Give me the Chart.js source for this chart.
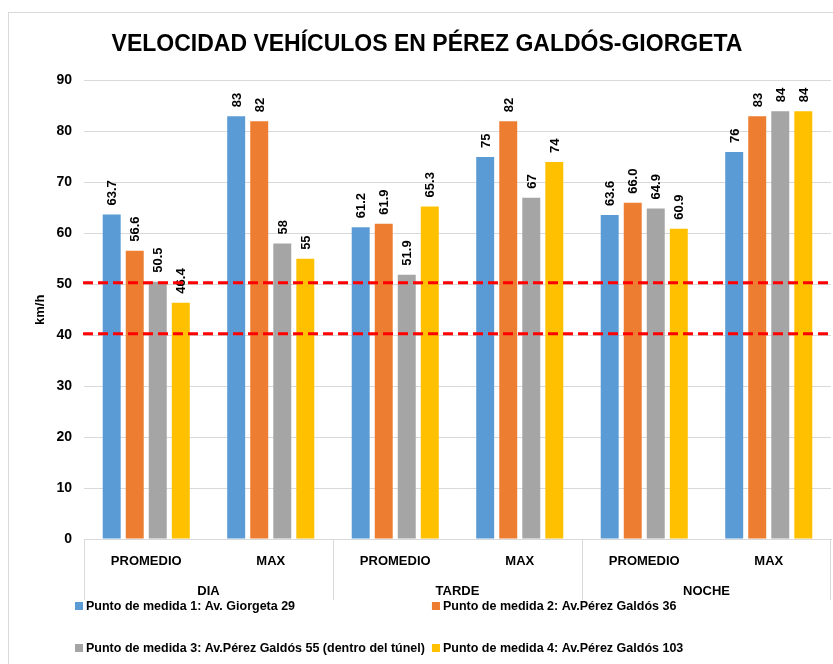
<!DOCTYPE html>
<html><head><meta charset="utf-8">
<script src="https://cdn.jsdelivr.net/npm/chart.js@4/dist/chart.umd.min.js"></script>
<style>html,body{margin:0;padding:0;background:#fff}#wrap{width:833px;height:664px;position:relative}</style>
</head><body><div id="wrap"><canvas id="c"></canvas></div>
<script>
const chartTitle = 'VELOCIDAD VEHÍCULOS EN PÉREZ GALDÓS-GIORGETA';
const yTitle = 'km/h';
const periods = ['DIA', 'TARDE', 'NOCHE'];
const measures = ['PROMEDIO', 'MAX', 'PROMEDIO', 'MAX', 'PROMEDIO', 'MAX'];
const seriesNames = [
  'Punto de medida 1: Av. Giorgeta 29',
  'Punto de medida 2: Av.Pérez Galdós 36',
  'Punto de medida 3: Av.Pérez Galdós 55 (dentro del túnel)',
  'Punto de medida 4: Av.Pérez Galdós 103'
];
const punto1 = [63.7, 83, 61.2, 75, 63.6, 76];
const punto2 = [56.6, 82, 61.9, 82, 66.0, 83];
const punto3 = [50.5, 58, 51.9, 67, 64.9, 84];
const punto4 = [46.4, 55, 65.3, 74, 60.9, 84];
const limits = [50.3, 40.3];
const yMin = 0, yMax = 90, yStep = 10;
const colors = ['#5B9BD5', '#ED7D31', '#A5A5A5', '#FFC000'];

const FONT = '"Liberation Sans", Arial, sans-serif';
const series = [punto1, punto2, punto3, punto4];

const framePlugin = {
  id: 'frame',
  beforeDraw(chart) {
    const ctx = chart.ctx;
    ctx.save();
    ctx.fillStyle = '#fff';
    ctx.fillRect(0, 0, chart.width, chart.height);
    ctx.strokeStyle = '#d9d9d9';
    ctx.lineWidth = 1;
    ctx.strokeRect(8.5, 12.5, chart.width + 50, chart.height + 50);
    ctx.restore();
  }
};

const separatorPlugin = {
  id: 'separators',
  afterDraw(chart) {
    const x2 = chart.scales.x2;
    const ctx = chart.ctx;
    const n = periods.length;
    const xs = [x2.left];
    for (let i = 0; i < n - 1; i++) {
      xs.push((x2.getPixelForTick(i) + x2.getPixelForTick(i + 1)) / 2);
    }
    xs.push(x2.right - 1);
    ctx.save();
    ctx.strokeStyle = '#d9d9d9';
    ctx.lineWidth = 1;
    xs.forEach(x => {
      const px = Math.round(x) + 0.5;
      ctx.beginPath();
      ctx.moveTo(px, chart.chartArea.bottom);
      ctx.lineTo(px, x2.bottom);
      ctx.stroke();
    });
    ctx.restore();
  }
};

const labelsAndLimitsPlugin = {
  id: 'labelsLimits',
  afterDatasetsDraw(chart) {
    const ctx = chart.ctx;
    ctx.save();
    ctx.fillStyle = '#000';
    ctx.font = 'bold 13px ' + FONT;
    ctx.textAlign = 'left';
    ctx.textBaseline = 'middle';
    chart.data.datasets.forEach((ds, di) => {
      const meta = chart.getDatasetMeta(di);
      meta.data.forEach((bar, i) => {
        const v = ds.data[i];
        const txt = measures[i] === 'MAX' ? v.toFixed(0) : v.toFixed(1);
        ctx.save();
        ctx.translate(bar.x + 1, bar.y - 9);
        ctx.rotate(-Math.PI / 2);
        ctx.fillText(txt, 0, 0);
        ctx.restore();
      });
    });
    const y = chart.scales.y;
    ctx.strokeStyle = '#ff0000';
    ctx.lineWidth = 3;
    ctx.setLineDash([10, 5]);
    limits.forEach(l => {
      const py = y.getPixelForValue(l);
      ctx.beginPath();
      ctx.moveTo(chart.chartArea.left - 1, py);
      ctx.lineTo(chart.chartArea.right, py);
      ctx.stroke();
    });
    ctx.restore();
  }
};

const legendPlugin = {
  id: 'customLegend',
  afterDraw(chart) {
    const ctx = chart.ctx;
    ctx.save();
    ctx.font = 'bold 12.5px ' + FONT;
    ctx.textBaseline = 'middle';
    ctx.textAlign = 'left';
    const x0 = chart.chartArea.left - 9;
    const rowsY = [606, 648];
    const box = 8, gapText = 3;
    const w1 = Math.max(ctx.measureText(seriesNames[0]).width, ctx.measureText(seriesNames[2]).width);
    const colX = [x0, x0 + box + gapText + w1 + 7];
    seriesNames.forEach((name, i) => {
      const cx = colX[i % 2];
      const cy = rowsY[Math.floor(i / 2)];
      ctx.fillStyle = colors[i];
      ctx.fillRect(cx, cy - box / 2, box, box);
      ctx.fillStyle = '#000';
      ctx.fillText(name, cx + box + gapText, cy + 1);
    });
    ctx.restore();
  }
};

new Chart(document.getElementById('c'), {
  type: 'bar',
  data: {
    labels: measures,
    datasets: series.map((d, i) => ({
      label: seriesNames[i],
      data: d,
      backgroundColor: colors[i],
      borderWidth: 0,
      categoryPercentage: 0.74,
      barPercentage: 0.78
    }))
  },
  options: {
    responsive: true,
    maintainAspectRatio: false,
    animation: false,
    layout: { padding: { left: 23, right: 2, top: 0, bottom: 64 } },
    plugins: {
      legend: { display: false },
      tooltip: { enabled: false },
      title: {
        display: true,
        text: chartTitle,
        color: '#000',
        font: { family: FONT, size: 23, weight: 'bold' },
        padding: { top: 31, bottom: 22 }
      }
    },
    scales: {
      x: {
        position: 'bottom',
        grid: { display: false },
        border: { display: true, color: '#d9d9d9' },
        ticks: { color: '#000', font: { family: FONT, size: 13, weight: 'bold' }, padding: 7, maxRotation: 0 },
        afterFit(s) { s.height = 30; }
      },
      x2: {
        type: 'category',
        labels: periods,
        position: 'bottom',
        offset: true,
        grid: { display: false },
        border: { display: false },
        ticks: { color: '#000', font: { family: FONT, size: 13, weight: 'bold' }, padding: 7, maxRotation: 0 },
        afterFit(s) { s.height = 31; }
      },
      y: {
        min: yMin, max: yMax,
        ticks: { stepSize: yStep, color: '#000', font: { family: FONT, size: 14, weight: 'bold' }, padding: 12 },
        grid: { color: '#d9d9d9', drawTicks: false },
        border: { display: false },
        title: { display: true, text: yTitle, color: '#000', font: { family: FONT, size: 13, weight: 'bold' }, padding: { top: 10, bottom: 0 } },
        afterFit(s) { s.width = 61; }
      }
    }
  },
  plugins: [framePlugin, labelsAndLimitsPlugin, separatorPlugin, legendPlugin]
});
</script></body></html>
